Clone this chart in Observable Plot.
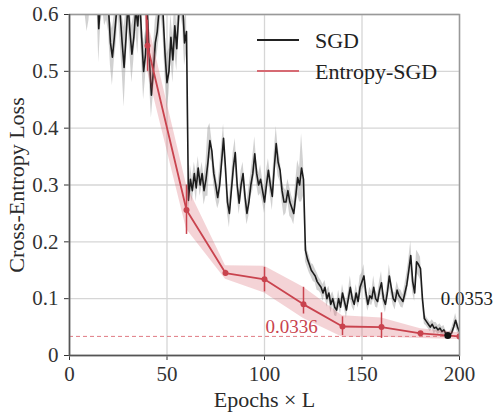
<!DOCTYPE html>
<html><head><meta charset="utf-8">
<script src="https://cdn.jsdelivr.net/npm/d3@7"></script>
<script src="https://cdn.jsdelivr.net/npm/@observablehq/plot@0.6"></script>
<style>body{margin:0;background:#fff}</style>
</head><body><div id="chart"></div>
<script>
// SGD loss, one value per epoch (0..200)
const sgdLoss = [
0.72,0.70,0.68,0.71,0.69,0.67,0.70,0.68,0.66,0.64,0.67,0.69,0.66,0.65,0.68,
0.575,0.63,0.66,0.62,0.64,0.61,0.55,0.525,0.56,0.60,0.64,0.60,0.55,0.507,0.56,0.62,
0.57,0.53,0.56,0.61,0.58,0.63,0.56,0.50,0.53,0.60,0.52,0.458,0.50,0.55,0.57,0.61,0.64,0.60,0.53,0.48,0.50,0.56,0.52,0.58,0.54,0.60,0.64,0.62,0.55,0.57,
0.273,0.31,0.29,0.32,0.295,0.33,0.30,0.32,0.29,0.31,0.34,0.378,0.36,0.32,0.30,0.278,0.30,0.34,0.382,0.33,0.27,0.25,0.29,0.33,0.357,0.30,0.268,0.30,0.32,0.28,
0.25,0.27,0.30,0.32,0.355,0.32,0.30,0.31,0.29,0.27,0.30,0.326,0.30,0.28,0.33,0.373,0.34,0.326,0.29,0.27,0.27,0.29,0.27,0.26,0.25,0.28,0.313,0.30,0.33,0.31,
0.185,0.17,0.16,0.15,0.145,0.14,0.13,0.125,0.12,0.11,0.12,0.10,0.11,0.09,0.10,0.085,0.08,0.10,0.085,0.11,
0.095,0.08,0.10,0.12,0.10,0.09,0.11,0.095,0.12,0.13,0.14,0.11,0.09,0.105,0.10,0.12,0.10,0.095,0.115,0.128,
0.10,0.09,0.11,0.14,0.12,0.10,0.095,0.115,0.105,0.10,0.095,0.11,0.125,0.15,0.176,0.13,0.11,0.165,0.16,0.153,
0.10,0.065,0.06,0.055,0.05,0.055,0.048,0.05,0.045,0.048,0.042,0.045,0.038,0.0353,0.036,0.04,0.05,0.062,0.05,0.042
];
// SGD spread (std over runs), one per epoch
const sgdStd = [
0.04,0.04,0.05,0.04,0.05,0.05,0.04,0.05,0.06,0.07,0.08,0.05,0.06,0.05,0.05,
0.06,0.05,0.05,0.04,0.05,0.04,0.04,0.05,0.04,0.05,0.04,0.05,0.05,0.07,0.05,0.04,
0.04,0.05,0.04,0.04,0.05,0.04,0.04,0.05,0.04,0.05,0.04,0.04,0.04,0.04,0.04,0.05,0.04,0.04,0.04,0.05,0.04,0.04,0.04,0.05,0.04,0.04,0.04,0.04,0.04,0.04,
0.02,0.025,0.02,0.02,0.025,0.02,0.02,0.02,0.025,0.03,0.06,0.03,0.02,0.02,0.025,0.02,0.03,0.03,0.025,0.02,0.02,0.025,0.02,0.03,0.025,0.02,0.02,0.025,0.02,0.02,
0.02,0.025,0.02,0.03,0.03,0.02,0.02,0.025,0.02,0.02,0.025,0.02,0.02,0.025,0.03,0.03,0.025,0.02,0.02,0.025,0.02,0.02,0.025,0.02,0.02,0.025,0.03,0.03,0.06,0.03,
0.02,0.015,0.015,0.012,0.015,0.012,0.015,0.012,0.012,0.015,0.012,0.015,0.012,0.015,0.012,0.015,0.012,0.015,0.012,0.015,
0.012,0.015,0.012,0.02,0.015,0.012,0.015,0.012,0.02,0.015,0.02,0.015,0.012,0.015,0.012,0.02,0.015,0.012,0.015,0.02,
0.012,0.015,0.015,0.02,0.015,0.012,0.015,0.015,0.012,0.015,0.012,0.015,0.02,0.02,0.025,0.02,0.015,0.02,0.02,0.02,
0.015,0.01,0.008,0.008,0.008,0.008,0.01,0.008,0.008,0.008,0.008,0.008,0.006,0.006,0.006,0.008,0.01,0.012,0.01,0.008
];
const entEpochs   = [20, 40, 60, 80, 100, 120, 140, 160, 180, 200];
const entLoss     = [2.4, 0.545, 0.256, 0.145, 0.134, 0.09, 0.051, 0.05, 0.039, 0.0336];
const entBandLow  = [2.2, 0.50, 0.222, 0.134, 0.11, 0.065, 0.032, 0.032, 0.03, 0.028];
const entBandHigh = [2.6, 0.59, 0.30, 0.158, 0.157, 0.12, 0.07, 0.066, 0.047, 0.04];
const entErrLow   = [2.3, 0.50, 0.213, 0.14, 0.112, 0.073, 0.035, 0.03, 0.036, 0.032];
const entErrHigh  = [2.5, 0.59, 0.30, 0.15, 0.155, 0.12, 0.068, 0.075, 0.042, 0.036];
const sgdBest = {epoch: 194, loss: 0.0353};
const entBest = 0.0336;
const xTicks = [0, 50, 100, 150, 200];
const yTicks = [0, 0.1, 0.2, 0.3, 0.4, 0.5, 0.6];
const seriesNames = ["SGD", "Entropy-SGD"];

const red = "#c9434e";
const sgd = sgdLoss.map((v, i) => ({epoch: i, loss: v, lo: v - sgdStd[i], hi: v + sgdStd[i]}));
const ent = entEpochs.map((e, i) => ({epoch: e, loss: entLoss[i], bLo: entBandLow[i], bHi: entBandHigh[i], eLo: entErrLow[i], eHi: entErrHigh[i]}));

const chart = Plot.plot({
  width: 500, height: 412,
  marginLeft: 69, marginRight: 41, marginTop: 14, marginBottom: 57,
  style: {fontFamily: "Liberation Serif", fontSize: "21px", color: "#333", background: "#fff", overflow: "visible"},
  x: {domain: [0, 200], ticks: xTicks, label: "Epochs × L", labelAnchor: "center", labelArrow: "none", labelOffset: 51, tickSize: 5, tickPadding: 6},
  y: {domain: [0, 0.6], ticks: yTicks, tickFormat: d => d === 0 ? "0" : d.toFixed(1), label: "Cross-Entropy Loss", labelAnchor: "center", labelArrow: "none", labelOffset: 61, tickSize: 5, tickPadding: 6},
  marks: [
    Plot.gridX(xTicks, {stroke: "#d6d6d6", strokeOpacity: 1, strokeWidth: 1.3}),
    Plot.gridY(yTicks, {stroke: "#d6d6d6", strokeOpacity: 1, strokeWidth: 1.3}),
    Plot.areaY(sgd, {x: "epoch", y1: "lo", y2: "hi", fill: "#9a9a9a", fillOpacity: 0.45, clip: true}),
    Plot.lineY(sgd, {x: "epoch", y: "loss", stroke: "#1c1c1c", strokeWidth: 1.6, clip: true}),
    Plot.areaY(ent, {x: "epoch", y1: "bLo", y2: "bHi", fill: "#d8606b", fillOpacity: 0.28, clip: true}),
    Plot.ruleY([entBest], {stroke: "#e07a83", strokeWidth: 1, strokeDasharray: "4,3"}),
    Plot.lineY(ent, {x: "epoch", y: "loss", stroke: red, strokeWidth: 1.8, clip: true}),
    Plot.ruleX(ent, {x: "epoch", y1: "eLo", y2: "eHi", stroke: red, strokeWidth: 1.5, clip: true}),
    Plot.dot(ent, {x: "epoch", y: "loss", r: 3, fill: red, clip: true}),
    Plot.dot([sgdBest], {x: "epoch", y: "loss", r: 3.5, fill: "#111"}),
    Plot.text([sgdBest], {x: "epoch", y: "loss", text: d => d.loss.toFixed(4), textAnchor: "start", lineAnchor: "bottom", dx: -7, dy: -30, fill: "#222", fontSize: 19}),
    Plot.text([entBest], {x: () => 100, y: d => d, text: d => d.toFixed(4), textAnchor: "start", lineAnchor: "bottom", dx: 1, dy: -3, fill: red, fontSize: 19}),
    Plot.frame({stroke: "#999", strokeWidth: 1.5}),
    Plot.ruleX([0], {stroke: "#555", strokeWidth: 1.5}),
    Plot.ruleY([0], {stroke: "#555", strokeWidth: 1.5})
  ]
});

// make axis labels larger, dark
d3.select(chart).selectAll("[aria-label='x-axis label'], [aria-label='y-axis label']")
  .attr("font-size", 22).attr("fill", "#2a2a2a");

// legend inside plot area
const svg = d3.select(chart);
const lg = svg.append("g").attr("font-family", "Liberation Serif").attr("font-size", 22).attr("fill", "#222").attr("text-anchor", "start");
const legColors = ["#222", "#d66a73"];
seriesNames.forEach((name, i) => {
  const y = 40 + i * 31;
  lg.append("line").attr("x1", 257).attr("x2", 299).attr("y1", y).attr("y2", y)
    .attr("stroke", legColors[i]).attr("stroke-width", 1.8);
  lg.append("text").attr("x", 315).attr("y", y).attr("dy", "0.35em").attr("text-anchor", "start").text(name);
});
document.getElementById("chart").appendChild(chart);
</script>
</body></html>
